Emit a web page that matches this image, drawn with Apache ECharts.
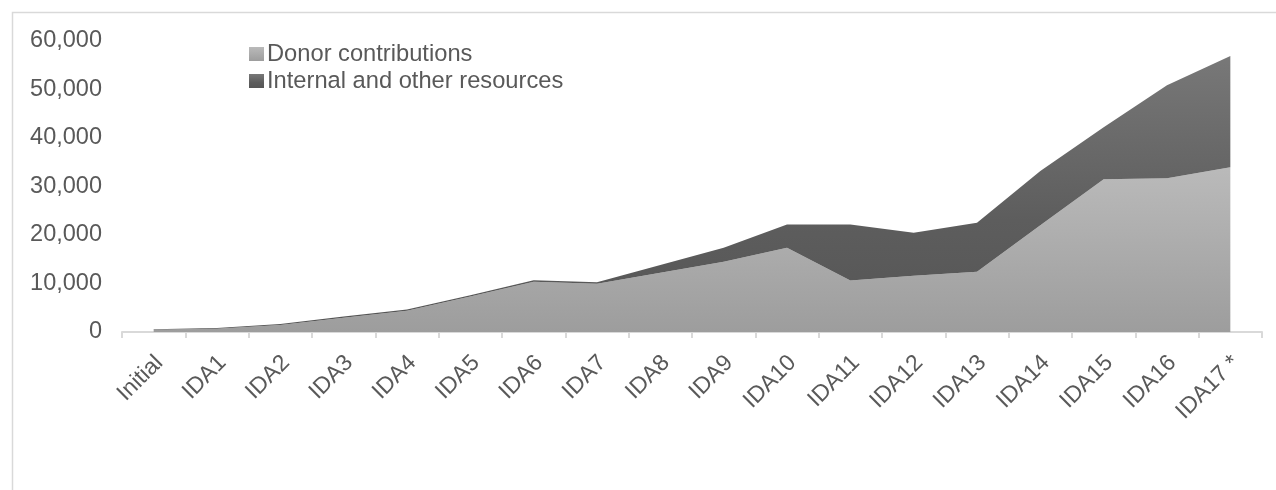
<!DOCTYPE html>
<html>
<head>
<meta charset="utf-8">
<script src="https://cdn.jsdelivr.net/npm/echarts@6/dist/echarts.min.js"></script>
<style>
html,body{margin:0;padding:0;background:#fff;}
#chart{width:1276px;height:490px;}
</style>
</head>
<body>
<div id="chart"></div>
<script>
var categories = ["Initial","IDA1","IDA2","IDA3","IDA4","IDA5","IDA6","IDA7","IDA8","IDA9","IDA10","IDA11","IDA12","IDA13","IDA14","IDA15","IDA16","IDA17 *"];
var donorContributions = [450, 650, 1450, 2950, 4400, 7300, 10350, 9950, 12200, 14470, 17360, 10620, 11600, 12430, 22000, 31480, 31690, 33950];
var internalResources = [120, 150, 200, 250, 250, 300, 330, 320, 1600, 2890, 4800, 11540, 8850, 10110, 11200, 10720, 19210, 22950];
var yTicks = {min: 0, max: 60000, interval: 10000};

var chart = echarts.init(document.getElementById('chart'));
var font = 'Liberation Sans, Arial, sans-serif';
function donorGrad() {
  return new echarts.graphic.LinearGradient(0, 0, 0, 1, [{offset: 0, color: '#bababa'}, {offset: 1, color: '#9d9d9d'}]);
}
function internalGrad() {
  return new echarts.graphic.LinearGradient(0, 0, 0, 1, [{offset: 0, color: '#787878'}, {offset: 0.6, color: '#5d5d5d'}, {offset: 1, color: '#555555'}]);
}
chart.setOption({
  animation: false,
  graphic: [{
    type: 'rect',
    shape: {x: 12.5, y: 12.5, width: 1300, height: 500},
    style: {fill: 'none', stroke: '#d9d9d9', lineWidth: 1.5},
    silent: true
  }],
  legend: {
    orient: 'vertical',
    left: 249,
    top: 42,
    padding: 0,
    itemWidth: 15,
    itemHeight: 14,
    itemGap: 3,
    icon: 'rect',
    textStyle: {fontFamily: font, fontSize: 23.7, color: '#595959', padding: [0, 0, 0, -2]},
    data: ['Donor contributions', 'Internal and other resources']
  },
  grid: {left: 122, right: 14, top: 41, bottom: 158, containLabel: false},
  xAxis: {
    type: 'category',
    data: categories,
    boundaryGap: true,
    axisLine: {lineStyle: {color: '#d9d9d9', width: 2}},
    axisTick: {show: true, length: 6, lineStyle: {color: '#d9d9d9', width: 2}},
    axisLabel: {rotate: 45, fontFamily: font, fontSize: 23, color: '#595959', margin: 33, interval: 0, padding: [0, -8, 0, 0]}
  },
  yAxis: {
    type: 'value',
    min: yTicks.min,
    max: yTicks.max,
    interval: yTicks.interval,
    splitLine: {show: false},
    axisLine: {show: false},
    axisTick: {show: false},
    axisLabel: {
      fontFamily: font, fontSize: 23.5, color: '#595959', margin: 20,
      formatter: function (v) { return v.toLocaleString('en-US'); }
    }
  },
  series: [{
    name: 'Donor contributions',
    type: 'line',
    stack: 'total',
    data: donorContributions,
    symbol: 'none',
    lineStyle: {width: 0},
    itemStyle: {color: donorGrad()},
    areaStyle: {opacity: 1, color: donorGrad()}
  }, {
    name: 'Internal and other resources',
    type: 'line',
    stack: 'total',
    data: internalResources,
    symbol: 'none',
    lineStyle: {width: 0},
    itemStyle: {color: internalGrad()},
    areaStyle: {opacity: 1, color: internalGrad()}
  }]
});
</script>
</body>
</html>
